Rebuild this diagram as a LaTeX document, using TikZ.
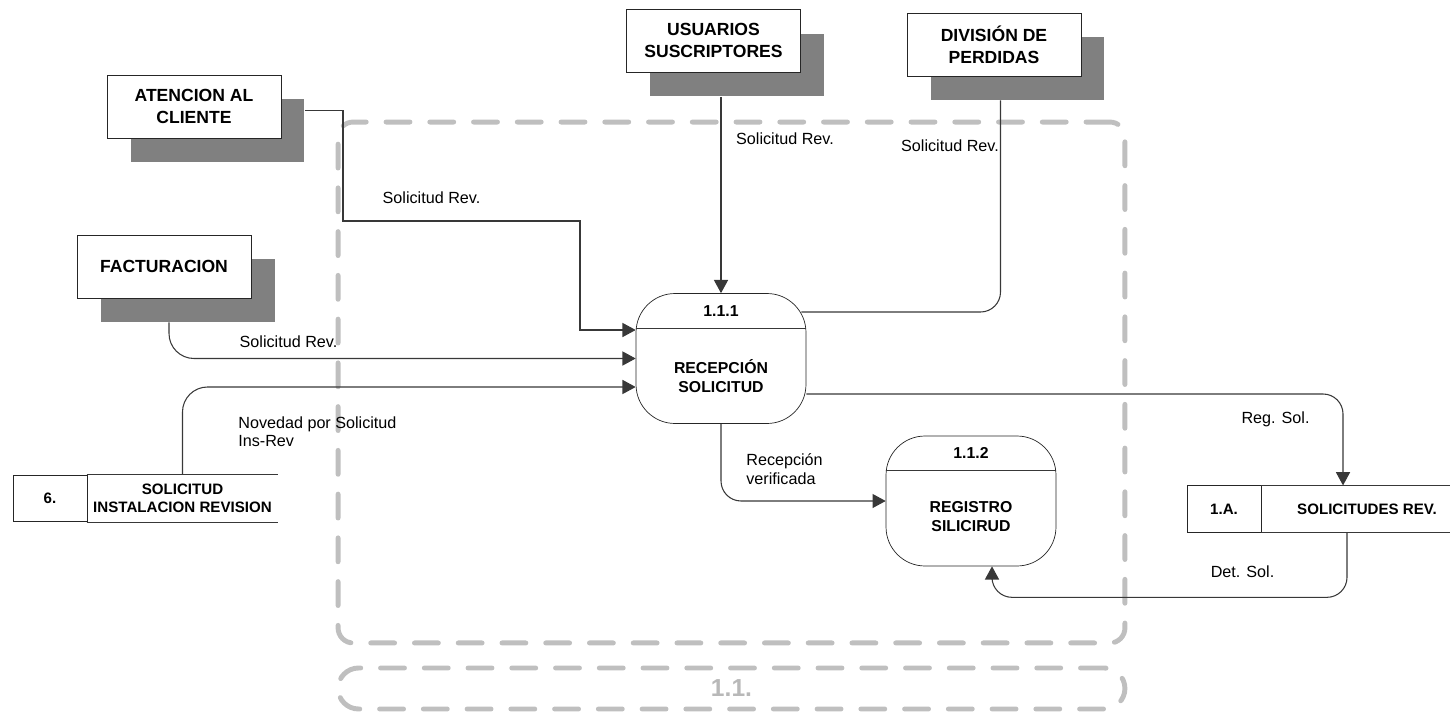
\documentclass[tikz,border=0pt]{standalone}
\usepackage{fontspec}
\setmainfont{Liberation Sans}
\usetikzlibrary{arrows.meta}

\begin{document}
\begin{tikzpicture}[x=0.02cm, y=-0.02cm,
  entidad/.style={draw=black!85, fill=white, minimum width=3.48cm, minimum height=1.26cm, align=center, font=\fontsize{10}{12.5}\selectfont\bfseries},
  sombra/.style={fill=black!50, minimum width=3.48cm, minimum height=1.26cm},
  proceso/.style={draw=black!85, fill=white, rounded corners=0.78cm, minimum width=3.4cm, minimum height=2.6cm},
  numproc/.style={font=\fontsize{9}{10.5}\selectfont\bfseries},
  nomproc/.style={align=center, font=\fontsize{9}{10.5}\selectfont\bfseries},
  almnum/.style={draw=black!85, minimum width=1.48cm, minimum height=0.93cm, font=\fontsize{8.6}{10.2}\selectfont\bfseries},
  almtxt/.style={align=center, minimum height=0.93cm, font=\fontsize{8.6}{10.2}\selectfont\bfseries},
  etiqueta/.style={align=left, inner sep=0pt, font=\fontsize{9.2}{10.4}\selectfont},
  linea/.style={draw=black!78, line width=0.6pt},
  flujo/.style={linea, -{Triangle[length=7.5pt,width=8pt]}},
  frontera/.style={draw=black!25, line width=2.8pt, line cap=round, dash pattern=on 13.6pt off 11.3pt}
]
\useasboundingbox (0,0) rectangle (1450,713);

% limite del proceso 1.1.
\node[frontera, minimum width=15.74cm, minimum height=10.42cm, rounded corners=0.3cm] (limite) at (731.5,382.5) {};
\node[frontera, minimum width=15.74cm, minimum height=0.82cm, rounded corners=0.41cm, text=black!28, font=\fontsize{14}{16}\selectfont\bfseries] (nivel) at (731.5,688.5) {1.1.};

% entidades externas
\node[sombra] (atenS) at (217.5,130.5) {};
\node[entidad] (aten) at (194,106.5) {ATENCION AL\\CLIENTE};
\node[sombra] (factS) at (188,290.5) {};
\node[entidad] (fact) at (164,266.5) {FACTURACION};
\node[sombra] (usuS) at (737,65) {};
\node[entidad] (usu) at (713.5,40.5) {USUARIOS\\SUSCRIPTORES};
\node[sombra] (divS) at (1017.5,68.5) {};
\node[entidad] (div) at (994,44.5) {DIVISIÓN DE\\PERDIDAS};

% procesos
\node[proceso] (p1) at (721,358.5) {};
\draw[linea] ([yshift=-0.7cm]p1.north west) -- ([yshift=-0.7cm]p1.north east);
\node[numproc] (p1n) at ([yshift=-0.35cm]p1.north) {1.1.1};
\node[nomproc] (p1t) at ([yshift=-1.66cm]p1.north) {RECEPCIÓN\\SOLICITUD};

\node[proceso] (p2) at (971,501) {};
\draw[linea] ([yshift=-0.7cm]p2.north west) -- ([yshift=-0.7cm]p2.north east);
\node[numproc] (p2n) at ([yshift=-0.35cm]p2.north) {1.1.2};
\node[nomproc] (p2t) at ([yshift=-1.62cm]p2.north) {REGISTRO\\SILICIRUD};

% almacenes
\node[almnum] (s6n) at (50,498.5) {6.};
\node[almtxt, minimum width=3.82cm] (s6) at (182.5,498.5) {SOLICITUD\\INSTALACION REVISION};
\draw[linea] (s6.north west) -- (s6.north east) (s6.south west) -- (s6.south east);

\node[almnum] (sAn) at (1224,509) {1.A.};
\node[almtxt, minimum width=4.24cm] (sA) at (1367,509) {SOLICITUDES REV.};
\draw[linea] (sA.north west) -- (sA.north east) (sA.south west) -- (sA.south east);

% flujos
\draw[flujo] ([yshift=0.4cm]atenS.east) -| (343,221) -- (580,221) |- ([yshift=0.57cm]p1.west);
\draw[flujo, rounded corners=0.5cm] ([xshift=-0.38cm]factS.south) |- (p1.west);
\draw[flujo, rounded corners=0.5cm] (s6.north) |- ([yshift=-0.57cm]p1.west);
\draw[flujo] (usuS.south -| p1.north) -- (p1.north);
\draw[linea, rounded corners=0.4cm] ([xshift=-0.34cm]divS.south) |- ([yshift=0.93cm, xshift=-0.1cm]p1.east);
\draw[flujo, rounded corners=0.4cm] ([yshift=-0.71cm]p1.east) -| ([xshift=-0.48cm]sA.north);
\draw[flujo, rounded corners=0.4cm] (p1.south) |- (p2.west);
\draw[flujo, rounded corners=0.4cm] ([xshift=-0.4cm]sA.south) |- ([xshift=0.42cm,yshift=-0.62cm]p2.south) -- ([xshift=0.42cm]p2.south);

% etiquetas
\node[etiqueta] (e1) at (431.5,198) {Solicitud Rev.};
\node[etiqueta] (e2) at (288.5,342) {Solicitud Rev.};
\node[etiqueta, anchor=west] (e3) at (238,432) {Novedad por Solicitud\\Ins-Rev};
\node[etiqueta] (e4) at (785,139) {Solicitud Rev.};
\node[etiqueta] (e5) at (950,146) {Solicitud Rev.};
\node[etiqueta] (e6) at (1275.5,419) {Reg. Sol.};
\node[etiqueta, anchor=west] (e7) at (746,469) {Recepción\\verificada};
\node[etiqueta] (e8) at (1242.5,572) {Det. Sol.};

\end{tikzpicture}
\end{document}
